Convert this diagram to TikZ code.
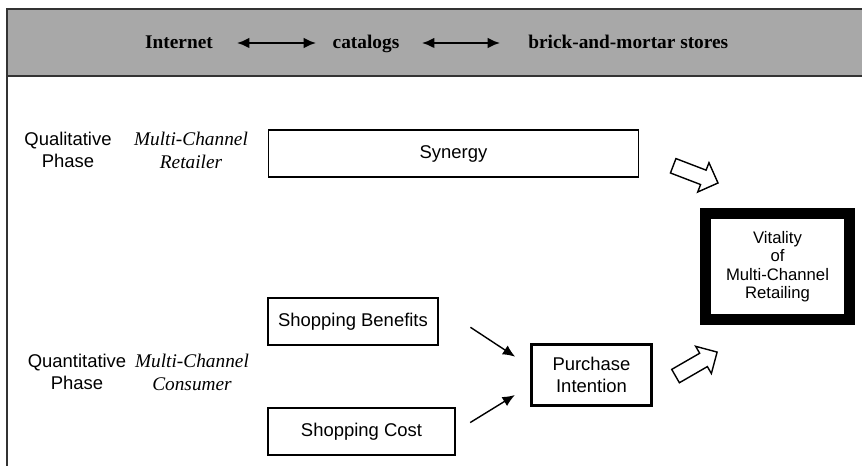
\documentclass[tikz,border=0pt]{standalone}
\usepackage{fontspec}
\setmainfont{Liberation Sans}
\newfontfamily\timesfont{Liberation Serif}
\usetikzlibrary{arrows.meta,shapes.arrows}

\definecolor{bandgray}{RGB}{168,168,168}

\tikzset{
  box/.style={draw, line width=0.8pt, inner sep=0pt, align=center,
    font=\fontsize{10.5}{12.5}\selectfont},
  phase/.style={align=center, font=\fontsize{10.5}{12.5}\selectfont},
  actor/.style={align=center, font=\timesfont\itshape\fontsize{11}{13}\selectfont},
  channel/.style={anchor=base, inner sep=0pt, font=\timesfont\bfseries\fontsize{11}{13}\selectfont},
  blockarrow/.style={single arrow, draw, line width=0.8pt, fill=white,
    inner xsep=0pt, inner ysep=0.14cm, minimum height=0.96cm,
    single arrow head extend=0.16cm},
  link/.style={-{Latex[length=7pt,width=6pt]}, line width=0.8pt},
  twoway/.style={{Latex[length=7pt,width=6pt]}-{Latex[length=7pt,width=6pt]}, line width=1.1pt}
}

\begin{document}
\begin{tikzpicture}[x=0.02cm,y=-0.02cm]

  \useasboundingbox (0,0) rectangle (862,466);

  % channel band
  \filldraw[fill=bandgray,draw=black!80,line width=1.2pt] (862,9) -- (7,9) -- (7,76) -- (862,76);
  \draw[line width=1.2pt,draw=black!80] (7,76) -- (7,466);

  \node[channel] (internet) at (179,49) {Internet};
  \node[channel] (catalogs) at (366,49) {catalogs};
  \node[channel,anchor=base west] (stores) at (528,49) {brick-and-mortar stores};
  \coordinate (i1) at (237,43);
  \coordinate (c1) at (316,43);
  \coordinate (c2) at (422,43);
  \coordinate (s1) at (500,43);
  \draw[twoway] (i1) -- (c1);
  \draw[twoway] (c2) -- (s1);

  % phases
  \node[phase] (quali) at (68,150) {Qualitative\\Phase};
  \node[actor] (retailer) at (191,150) {Multi-Channel\\Retailer};
  \node[phase] (quanti) at (77,372) {Quantitative\\Phase};
  \node[actor] (consumer) at (192,372) {Multi-Channel\\Consumer};

  % boxes
  \node[box,minimum width=7.4cm,minimum height=0.94cm] (synergy) at (453.5,153.5) {Synergy};
  \node[box,minimum width=3.4cm,minimum height=0.94cm] (benefits) at (353,321.5) {Shopping Benefits};
  \node[box,minimum width=3.74cm,minimum height=0.94cm] (cost) at (361.5,431.5) {Shopping Cost};
  \node[box,line width=2pt,minimum width=2.4cm,minimum height=1.22cm] (purchase) at (591.5,375)
    {Purchase\\Intention};
  \node[box,line width=0.22cm,minimum width=2.88cm,minimum height=2.12cm,
    font=\fontsize{9.5}{10.5}\selectfont] (vitality) at (777.5,266.5)
    {Vitality\\of\\Multi-Channel\\Retailing};

  \draw[link,shorten <=0.76cm,shorten >=0.35cm] (benefits.10) -- (purchase.172);
  \draw[link,shorten <=0.34cm,shorten >=0.35cm] (cost.east) -- (purchase.190);

  % block arrows into vitality
  \node[blockarrow,rotate=-21] (upper) at (692,173) {};
  \node[blockarrow,rotate=30] (lower) at (693,366) {};

\end{tikzpicture}
\end{document}
